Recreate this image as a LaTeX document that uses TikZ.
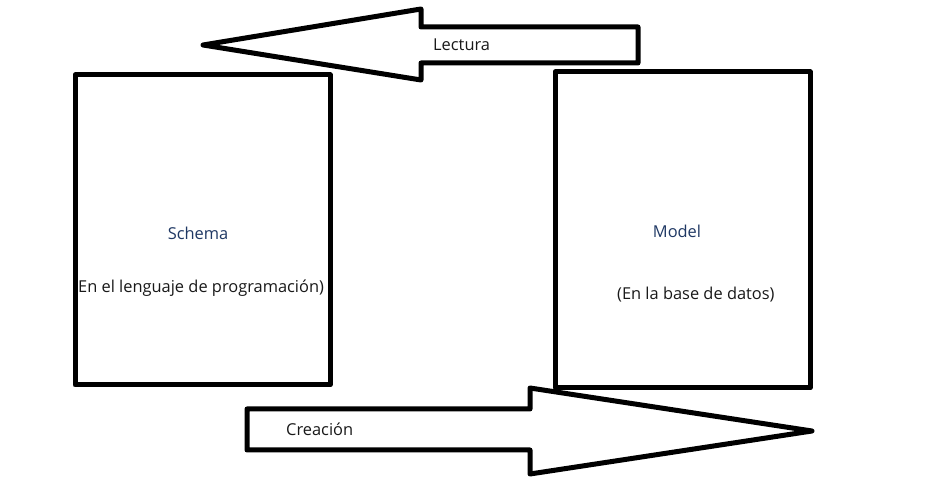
\documentclass[tikz,border=0pt]{standalone}
\usepackage{fontspec}
\setmainfont{Open Sans}
\begin{document}
\begin{tikzpicture}[x=1pt,y=-1pt,
  thick line/.style={line width=5pt,line join=round,draw=black},
  boxshape/.style={thick line,fill=white},
  lbl/.style={inner sep=0pt,font=\fontsize{16.4}{19}\selectfont,text=black!90},
  title/.style={lbl,text={rgb,255:red,31;green,56;blue,100}}]
\useasboundingbox (0,0) rectangle (935,502);
% top arrow (Lectura)
\draw[boxshape] (203,45) -- (421,9) -- (421,27) -- (638,27) -- (638,63) -- (421,63) -- (421,80) -- cycle;
% boxes
\draw[boxshape] (75,75) rectangle (330,385);
\draw[boxshape] (555,72) rectangle (810,388);
% bottom arrow (Creación)
\draw[boxshape] (247,409) -- (530,409) -- (530,388) -- (812,431) -- (530,474) -- (530,450) -- (247,450) -- cycle;
\node[lbl,anchor=west] (lectura) at (433,45) {Lectura};
\node[title] (schema) at (198,233) {Schema};
\node[lbl,anchor=west] (schemasub) at (78,288) {En el lenguaje de programación)};
\node[title] (model) at (677,231) {Model};
\node[lbl,anchor=west] (modelsub) at (617,295) {(En la base de datos)};
\node[lbl,anchor=west] (creacion) at (286,429) {Creación};
\end{tikzpicture}
\end{document}
